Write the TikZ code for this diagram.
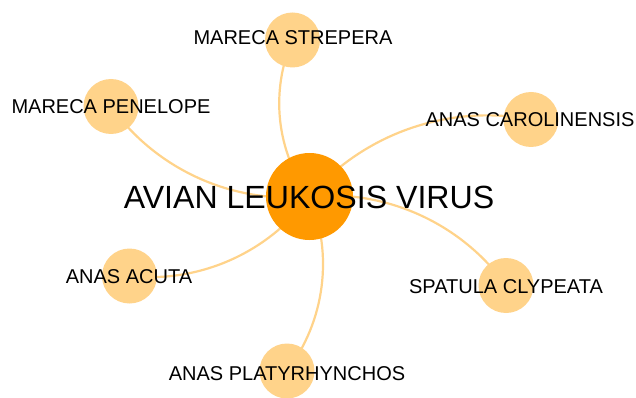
\documentclass[tikz,border=0pt]{standalone}
\usepackage{fontspec}
\setmainfont{Liberation Sans}
\usetikzlibrary{backgrounds}
\definecolor{hub}{RGB}{255,153,0}
\definecolor{leaf}{RGB}{255,211,138}
\tikzset{
  hubnode/.style={circle, fill=hub, draw=none, minimum size=87pt, inner sep=0pt},
  leafnode/.style={circle, fill=leaf, draw=none, minimum size=55pt, inner sep=0pt},
  link/.style={draw=leaf, line width=2.2pt, bend left=30, looseness=0.91},
  smalltext/.style={anchor=base, inner sep=0pt, font=\fontsize{20}{21}\selectfont},
  bigtext/.style={anchor=base, inner sep=0pt, font=\fontsize{32.1}{33}\selectfont}
}
\begin{document}
\begin{tikzpicture}[x=1pt, y=-1pt]
  \useasboundingbox (0,0) rectangle (636,398);
  % circles
  \node[hubnode]  (virus) at (309.5,196.5) {};
  \node[leafnode] (strep) at (292.5,40) {};
  \node[leafnode] (penel) at (111,106.5) {};
  \node[leafnode] (carol) at (531,119.5) {};
  \node[leafnode] (acuta) at (129.5,276) {};
  \node[leafnode] (spatu) at (506,285.5) {};
  \node[leafnode] (platy) at (287,371) {};
  % white page and curved links, behind the circles
  \begin{scope}[on background layer]
    \fill[white] (0,0) rectangle (636,398);
    \foreach \t in {strep,penel,carol,acuta,spatu,platy}
      \draw[link] (virus.center) to (\t.center);
  \end{scope}
  % labels
  \node[bigtext]   (virustxt) at (309,208) {AVIAN LEUKOSIS VIRUS};
  \node[smalltext] (streptxt) at (293,45)  {MARECA STREPERA};
  \node[smalltext] (peneltxt) at (111,114) {MARECA PENELOPE};
  \node[smalltext] (caroltxt) at (530,127) {ANAS CAROLINENSIS};
  \node[smalltext] (acutatxt) at (129,283) {ANAS ACUTA};
  \node[smalltext] (spatutxt) at (506,293) {SPATULA CLYPEATA};
  \node[smalltext] (platytxt) at (287,380) {ANAS PLATYRHYNCHOS};
\end{tikzpicture}
\end{document}
